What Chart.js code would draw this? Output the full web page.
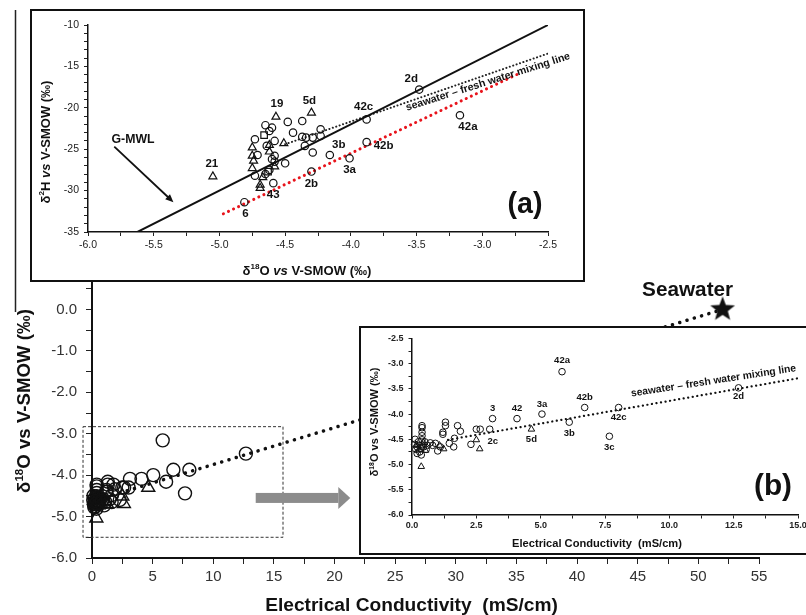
<!DOCTYPE html>
<html>
<head>
<meta charset="utf-8">
<script src="https://cdn.jsdelivr.net/npm/chart.js@4.4.1/dist/chart.umd.min.js"></script>
<style>
    body { margin: 0; background: #fff; }
    #wrap { position: relative; width: 806px; height: 615px; overflow: hidden; background: #fff; }
    #main { position: absolute; left: 0; top: 0; }
    .box { position: absolute; border: 2px solid #111; background: #fff; }
    .box canvas { display: block; }
    #boxA { left: 30px; top: 9px; width: 551px; height: 269px; }
    #boxB { left: 359px; top: 326px; width: 460px; height: 225px; }
</style>
</head>
<body>
<div id="wrap">
    <canvas id="main" width="806" height="615"></canvas>
    <div class="box" id="boxA"><canvas id="chartA" width="551" height="269"></canvas></div>
    <div class="box" id="boxB"><canvas id="chartB" width="460" height="225"></canvas></div>
</div>
<script>
// EC (mS/cm) vs d18O (permil), open circles
const ecCircles = [5.83, 12.69, 6.71, 8.03, 5.05, 4.08, 3.13, 6.11, 7.67, 3.02, 2.50, 2.65, 2.29, 1.88, 1.77, 1.65,
    1.62, 1.45, 1.30, 1.30, 1.20, 1.20, 1.00, 0.91, 0.71, 0.39, 0.39, 0.39, 0.39, 0.39, 0.39, 0.36,
    0.10, 0.15, 0.20, 0.25, 0.30, 0.45, 0.50, 0.55, 0.20, 0.60, 0.12, 0.35, 0.28, 0.80, 1.10];
const d18OCircles = [-3.16, -3.48, -3.87, -3.87, -4.00, -4.09, -4.09, -4.16, -4.44, -4.30, -4.30, -4.30, -4.60, -4.34, -4.23, -4.48,
    -4.65, -4.58, -4.16, -4.23, -4.36, -4.40, -4.73, -4.58, -4.57, -4.23, -4.27, -4.36, -4.43, -4.51, -4.61, -4.81,
    -4.60, -4.70, -4.65, -4.55, -4.75, -4.65, -4.55, -4.70, -4.78, -4.62, -4.50, -4.68, -4.62, -4.62, -4.65];
// open triangles
const ecTriangles = [4.64, 2.50, 2.63, 1.23, 1.07, 0.36, 0.26, 0.52, 0.17, 0.45];
const d18OTriangles = [-4.30, -4.51, -4.69, -4.69, -4.62, -5.04, -4.71, -4.72, -4.61, -4.57];
// seawater end member
const ecSea = [52];
const d18OSea = [0.0];
// seawater - fresh water mixing line (main chart and inset b)
const mixEC = [0.5, 52];
const mixD18O = [-4.59, 0.0];
const mixECb = [1.4, 15];
const mixD18Ob = [-4.51, -3.29];
// dashed zoom box and arrow in the main chart
const boxEC = [-0.74, 15.75, 15.75, -0.74, -0.74];
const boxD18O = [-2.83, -2.83, -5.5, -5.5, -2.83];
const arrowEC = [13.5, 21.3];
const arrowD18O = -4.55;

// inset a: d18O vs d2H
const aO18Circles = [-3.48, -3.17, -3.88, -3.88, -4.01, -4.16, -4.29, -4.30, -4.81, -4.59, -4.48, -4.37, -4.44, -4.37, -4.34,
    -4.29, -4.23, -4.23, -4.35, -4.73, -4.65, -4.60, -4.62, -4.64, -4.58, -4.58, -4.58, -4.50, -4.62, -4.73, -4.71, -4.65, -4.60];
const aH2Circles = [-17.8, -20.9, -21.4, -24.15, -26.1, -25.7, -25.4, -27.7, -31.4, -29.1, -21.7, -21.6, -23.0, -23.5, -23.6,
    -23.6, -22.6, -23.4, -24.6, -23.8, -22.1, -22.4, -22.8, -24.6, -24.0, -25.8, -26.5, -26.7, -27.5, -28.2, -25.7, -28.0, -26.2];
const aO18Triangles = [-4.30, -4.57, -5.05, -4.69, -4.69, -4.75, -4.75, -4.74, -4.75, -4.62, -4.58, -4.51, -4.67, -4.62];
const aH2Triangles = [-20.6, -21.1, -28.3, -29.7, -29.3, -24.8, -25.8, -26.4, -27.3, -25.3, -27.1, -24.3, -28.4, -24.5];
const aO18Squares = [-4.66, -4.63];
const aH2Squares = [-23.3, -27.7];
const gmwlO18 = [-5.62, -2.5];
const gmwlH2 = [-34.96, -10];
const mixO18 = [-4.5, -2.5];
const mixH2 = [-24.4, -13.45];
const redO18 = [-4.97, -2.7];
const redH2 = [-32.8, -15.7];
const gmwlArrowO18 = [-5.80, -5.35];
const gmwlArrowH2 = [-24.7, -31.4];

// sample labels
const labelsA = ['2d', '42c', '42a', '42b', '3b', '3a', '2b', '19', '5d', '21', '6', '43'];
const labelAO18 = [-3.48, -3.88, -3.17, -3.88, -4.16, -4.01, -4.30, -4.57, -4.30, -5.05, -4.81, -4.69];
const labelAH2 = [-17.8, -21.4, -20.9, -24.15, -25.7, -26.1, -27.7, -21.1, -20.6, -28.3, -31.4, -29.7];
const labelsB = ['42a', '2d', '42b', '42c', '3a', '42', '3', '3b', '3c', '2c', '5d'];
const labelBEC = [5.83, 12.69, 6.71, 8.03, 5.05, 4.08, 3.13, 6.11, 7.67, 3.02, 4.64];
const labelBO18 = [-3.16, -3.48, -3.87, -3.87, -4.00, -4.09, -4.09, -4.16, -4.44, -4.30, -4.30];

// where each label sits next to its point (px)
const offsetsA = [[-8, -11], [-3, -13], [8, 12], [17, 4], [9, -10], [0, 12], [0, 12], [1, -13], [-2, -12], [-1, -13], [1, 12], [13, 7]];
const offsetsB = [[0, -11], [0, 9], [0, -10], [0, 10], [0, -10], [0, -10], [0, -10], [0, 11], [0, 11], [3, 12], [0, 10]];

const ink = '#111';
const fam = '"Liberation Sans", Arial, sans-serif';
Chart.defaults.font.family = fam;
Chart.defaults.color = '#222';

const zip = (xs, ys) => xs.map((v, i) => ({ x: v, y: ys[i] }));
const isStep = (v, s) => Math.abs(v / s - Math.round(v / s)) < 1e-6;

function font(style, size) {
    if (style === 'i') return `italic bold ${size}px ${fam}`;
    if (style === 'sup') return `bold ${size * 0.62}px ${fam}`;
    return `bold ${size}px ${fam}`;
}

// draws a line of mixed bold / italic / superscript text centred on (cx, cy)
function drawRich(ctx, parts, cx, cy, rot, size, fit) {
    ctx.save();
    const measure = s => parts.reduce((w, p) => { ctx.font = font(p[1], s); return w + ctx.measureText(p[0]).width; }, 0);
    if (fit) size = size * fit / measure(size);
    const total = measure(size);
    ctx.translate(cx, cy);
    ctx.rotate(rot);
    ctx.fillStyle = ink;
    ctx.textAlign = 'left';
    ctx.textBaseline = 'middle';
    let x = -total / 2;
    parts.forEach(p => {
        ctx.font = font(p[1], size);
        ctx.fillText(p[0], x, p[1] === 'sup' ? -size * 0.3 : 0);
        x += ctx.measureText(p[0]).width;
    });
    ctx.restore();
}

function makeStar(r) {
    const c = document.createElement('canvas');
    c.width = c.height = 2 * r + 2;
    const g = c.getContext('2d');
    g.translate(r + 1, r + 1);
    g.beginPath();
    for (let i = 0; i < 10; i++) {
        const a = -Math.PI / 2 + i * Math.PI / 5;
        const rr = i % 2 ? r * 0.42 : r;
        g.lineTo(rr * Math.cos(a), rr * Math.sin(a));
    }
    g.closePath();
    g.fillStyle = ink;
    g.fill();
    return c;
}

function labelPlugin(texts, xs, ys, offsets, fontStr) {
    return {
        id: 'pointLabels',
        afterDatasetsDraw(chart) {
            const { ctx, scales: { x, y } } = chart;
            ctx.save();
            ctx.font = fontStr;
            ctx.fillStyle = ink;
            ctx.textAlign = 'center';
            ctx.textBaseline = 'middle';
            texts.forEach((t, i) => {
                ctx.fillText(t, x.getPixelForValue(xs[i]) + offsets[i][0], y.getPixelForValue(ys[i]) + offsets[i][1]);
            });
            ctx.restore();
        }
    };
}

function axis(o) {
    return {
        type: 'linear', min: o.min, max: o.max,
        afterFit: s => { if (o.w) s.width = o.w; if (o.h) s.height = o.h; },
        ticks: {
            stepSize: o.step, autoSkip: false, maxRotation: 0, padding: o.pad, color: o.color || '#222',
            font: { size: o.size, weight: o.bold ? 'bold' : 'normal' },
            callback: v => isStep(v, o.major) ? o.fmt(v) : ''
        },
        grid: { drawOnChartArea: false, drawTicks: true, tickLength: o.tl, color: '#222', lineWidth: 1 },
        border: { display: true, color: ink, width: o.bw }
    };
}

function points(data, style, r, bw) {
    return { data: data, pointStyle: style, pointRadius: r, pointHoverRadius: r, borderWidth: bw,
        borderColor: ink, backgroundColor: 'rgba(0,0,0,0)', clip: false };
}

function line(data, color, width, dash) {
    return { type: 'line', data: data, borderColor: color, borderWidth: width, borderDash: dash || [],
        borderCapStyle: 'round', pointRadius: 0, fill: false };
}

const baseOptions = {
    responsive: false, animation: false, devicePixelRatio: 1, events: [],
    plugins: { legend: { display: false }, tooltip: { enabled: false } }
};

// ---------- main chart ----------
const mainDecor = {
    id: 'mainDecor',
    afterDraw(chart) {
        const { ctx, scales: { x, y } } = chart;
        ctx.save();
        // grey arrow pointing to inset b
        const x0 = x.getPixelForValue(arrowEC[0]);
        const x1 = x.getPixelForValue(arrowEC[1]);
        const ya = y.getPixelForValue(arrowD18O);
        ctx.fillStyle = '#8c8c8c';
        ctx.fillRect(x0, ya - 5, x1 - 12 - x0, 10);
        ctx.beginPath();
        ctx.moveTo(x1 - 12, ya - 11);
        ctx.lineTo(x1, ya);
        ctx.lineTo(x1 - 12, ya + 11);
        ctx.closePath();
        ctx.fill();
        // stray frame line on the left
        ctx.strokeStyle = '#222';
        ctx.lineWidth = 1.5;
        ctx.beginPath();
        ctx.moveTo(15.5, 10);
        ctx.lineTo(15.5, 312);
        ctx.stroke();
        ctx.restore();
        const sx = x.getPixelForValue(ecSea[0]);
        const sy = y.getPixelForValue(d18OSea[0]);
        drawRich(ctx, [['Seawater', 'b']], sx - 35, sy - 19, 0, 20, 91);
        drawRich(ctx, [['δ', 'b'], ['18', 'sup'], ['O vs V-SMOW (‰)', 'b']], 25, 401, -Math.PI / 2, 18, 184);
        drawRich(ctx, [['Electrical Conductivity  (mS/cm)', 'b']], 411.5, 606, 0, 19, 293);
    }
};

new Chart(document.getElementById('main'), {
    type: 'scatter',
    data: {
        datasets: [
            points(zip(ecCircles, d18OCircles), 'circle', 6.5, 1.4),
            points(zip(ecTriangles, d18OTriangles), 'triangle', 7.5, 1.4),
            Object.assign(points(zip(ecSea, d18OSea), makeStar(13), 13, 0), { backgroundColor: ink }),
            line(zip(mixEC, mixD18O), ink, 3.5, [0.1, 7.5]),
            Object.assign(line(zip(boxEC, boxD18O), '#333', 1, [3, 2]), { clip: false, borderCapStyle: 'butt' })
        ]
    },
    options: Object.assign({}, baseOptions, {
        layout: { padding: { top: 268, right: 47, left: 0, bottom: 0 } },
        scales: {
            x: axis({ min: 0, max: 55, step: 2.5, major: 5, fmt: v => String(v), size: 15, pad: 4, tl: 6, bw: 2, h: 57, color: '#333' }),
            y: axis({ min: -6, max: 1, step: 0.5, major: 1, fmt: v => v.toFixed(1), size: 15, pad: 9, tl: 6, bw: 2, w: 92, color: '#333' })
        }
    }),
    plugins: [mainDecor]
});

// ---------- inset a ----------
const decorA = {
    id: 'decorA',
    afterDraw(chart) {
        const { ctx, scales: { x, y } } = chart;
        // G-MWL arrow
        const ax0 = x.getPixelForValue(gmwlArrowO18[0]), ay0 = y.getPixelForValue(gmwlArrowH2[0]);
        const ax1 = x.getPixelForValue(gmwlArrowO18[1]), ay1 = y.getPixelForValue(gmwlArrowH2[1]);
        const ang = Math.atan2(ay1 - ay0, ax1 - ax0);
        ctx.save();
        ctx.strokeStyle = ink;
        ctx.fillStyle = ink;
        ctx.lineWidth = 1.8;
        ctx.beginPath();
        ctx.moveTo(ax0, ay0);
        ctx.lineTo(ax1 - 5 * Math.cos(ang), ay1 - 5 * Math.sin(ang));
        ctx.stroke();
        ctx.beginPath();
        ctx.moveTo(ax1, ay1);
        ctx.lineTo(ax1 - 8 * Math.cos(ang) + 3.5 * Math.sin(ang), ay1 - 8 * Math.sin(ang) - 3.5 * Math.cos(ang));
        ctx.lineTo(ax1 - 8 * Math.cos(ang) - 3.5 * Math.sin(ang), ay1 - 8 * Math.sin(ang) + 3.5 * Math.cos(ang));
        ctx.closePath();
        ctx.fill();
        ctx.restore();
        drawRich(ctx, [['G-MWL', 'b']], 101, 129, 0, 12, 43);
        drawRich(ctx, [['seawater – fresh water mixing line', 'b']], 456, 71, -17.6 * Math.PI / 180, 10, 172);
        drawRich(ctx, [['(a)', 'b']], 493, 194, 0, 30, 35);
        drawRich(ctx, [['δ', 'b'], ['2', 'sup'], ['H ', 'b'], ['vs', 'i'], [' V-SMOW (‰)', 'b']], 14, 131, -Math.PI / 2, 12, 123);
        drawRich(ctx, [['δ', 'b'], ['18', 'sup'], ['O ', 'b'], ['vs', 'i'], [' V-SMOW (‰)', 'b']], 275, 260, 0, 12, 129);
    }
};

new Chart(document.getElementById('chartA'), {
    type: 'scatter',
    data: {
        datasets: [
            points(zip(aO18Circles, aH2Circles), 'circle', 3.7, 1.2),
            points(zip(aO18Triangles, aH2Triangles), 'triangle', 4.6, 1.2),
            points(zip(aO18Squares, aH2Squares), 'rect', 4.6, 1.2),
            line(zip(gmwlO18, gmwlH2), ink, 2),
            line(zip(mixO18, mixH2), '#222', 2, [0.1, 3.5]),
            line(zip(redO18, redH2), '#e8141c', 3, [0.1, 5.5])
        ]
    },
    options: Object.assign({}, baseOptions, {
        layout: { padding: { top: 14, right: 35, left: 0, bottom: 0 } },
        scales: {
            x: axis({ min: -6, max: -2.5, step: 0.25, major: 0.5, fmt: v => v.toFixed(1), size: 10.5, pad: 3, tl: 4, bw: 1.5, h: 48 }),
            y: axis({ min: -35, max: -10, step: 1, major: 5, fmt: v => String(v), size: 10.5, pad: 5, tl: 4, bw: 1.5, w: 56 })
        }
    }),
    plugins: [labelPlugin(labelsA, labelAO18, labelAH2, offsetsA, `bold 11.5px ${fam}`), decorA]
});

// ---------- inset b ----------
const decorB = {
    id: 'decorB',
    afterDraw(chart) {
        const { ctx } = chart;
        drawRich(ctx, [['seawater – fresh water mixing line', 'b']], 352.5, 53, -8.8 * Math.PI / 180, 10, 167);
        drawRich(ctx, [['(b)', 'b']], 412, 159, 0, 30, 38);
        drawRich(ctx, [['δ', 'b'], ['18', 'sup'], ['O vs V-SMOW (‰)', 'b']], 14, 94, -Math.PI / 2, 10.5, 109);
        drawRich(ctx, [['Electrical Conductivity  (mS/cm)', 'b']], 236, 216, 0, 10.5, 170);
    }
};

new Chart(document.getElementById('chartB'), {
    type: 'scatter',
    data: {
        datasets: [
            points(zip(ecCircles, d18OCircles), 'circle', 3.3, 1),
            points(zip(ecTriangles, d18OTriangles), 'triangle', 3.8, 1),
            line(zip(mixECb, mixD18Ob), ink, 2.2, [0.1, 4.5])
        ]
    },
    options: Object.assign({}, baseOptions, {
        layout: { padding: { top: 10, right: 23, left: 0, bottom: 0 } },
        scales: {
            x: axis({ min: 0, max: 15, step: 1.25, major: 2.5, fmt: v => v.toFixed(1), size: 9, bold: true, pad: 2, tl: 3.5, bw: 1.5, h: 38 }),
            y: axis({ min: -6, max: -2.5, step: 0.25, major: 0.5, fmt: v => v.toFixed(1), size: 9, bold: true, pad: 5, tl: 3.5, bw: 1.5, w: 51 })
        }
    }),
    plugins: [labelPlugin(labelsB, labelBEC, labelBO18, offsetsB, `bold 9.5px ${fam}`), decorB]
});
</script>
</body>
</html>
